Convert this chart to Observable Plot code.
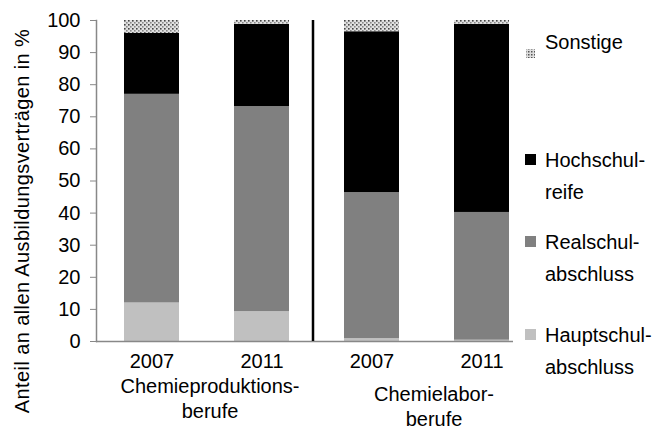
<!DOCTYPE html>
<html><head><meta charset="utf-8">
<script src="https://cdn.jsdelivr.net/npm/d3@7"></script>
<script src="https://cdn.jsdelivr.net/npm/@observablehq/plot@0.6"></script>
<style>
body{margin:0;background:#fff;font-family:"Liberation Sans",Arial,sans-serif;}
#wrap{position:relative;width:660px;height:439px;overflow:hidden;}
.lg{position:absolute;left:525px;font-size:20px;line-height:32px;color:#000;display:flex;align-items:flex-start;}
.lg .sw{width:11px;height:11px;margin-top:10px;margin-right:9px;flex:none;}
</style></head><body><div id="wrap"><div id="chart"></div></div>
<script>
const bars = ["Chemieproduktionsberufe 2007","Chemieproduktionsberufe 2011","Chemielaborberufe 2007","Chemielaborberufe 2011"];
const years = ["2007","2011","2007","2011"];
const groupLabels = ["Chemieproduktions-\nberufe","Chemielabor-\nberufe"];
const seriesNames = ["Hauptschul-\nabschluss","Realschul-\nabschluss","Hochschul-\nreife","Sonstige"];
const seriesColors = ["#c0c0c0","#808080","#000000","url(#dots)"];
const hauptschul = [12, 9.3, 0.9, 0.4];
const realschul = [65, 63.9, 45.5, 39.8];
const hochschul = [19, 25.6, 50.1, 58.6];
const sonstige = [4, 1.2, 3.5, 1.2];
const yTicks = [0,10,20,30,40,50,60,70,80,90,100];
const yTitle = "Anteil an allen Ausbildungsverträgen in %";

const seriesValues = [hauptschul, realschul, hochschul, sonstige];
const table = [];
seriesNames.forEach((s, si) => bars.forEach((b, bi) => table.push({bar: b, series: s, value: seriesValues[si][bi]})));

const svgns = "http://www.w3.org/2000/svg";
const patternDefs = () => {
  const g = document.createElementNS(svgns, "g");
  g.innerHTML = `<defs><pattern id="dots" patternUnits="userSpaceOnUse" width="4" height="4">
    <rect width="4" height="4" fill="#e0e0e0"/>
    <rect x="0" y="0" width="1.6" height="1.6" fill="#444"/>
    <rect x="2" y="2" width="1.6" height="1.6" fill="#888"/>
  </pattern></defs>`;
  return g;
};

const font = "Liberation Sans, Arial, sans-serif";
const chart = Plot.plot({
  width: 660, height: 439,
  marginLeft: 96, marginRight: 147, marginTop: 20, marginBottom: 98,
  style: {fontFamily: font, fontSize: "20px", background: "#fff", overflow: "visible"},
  x: {type: "band", domain: bars, range: [96, 536], paddingInner: 0.5, paddingOuter: 0.25},
  y: {domain: [0, 100]},
  color: {domain: seriesNames, range: seriesColors},
  marks: [
    patternDefs,
    Plot.barY(table, Plot.stackY({x: "bar", y: "value", fill: "series"})),
    Plot.frame({anchor: "left", stroke: "#888", strokeWidth: 1.5}),
    Plot.ruleY([0], {stroke: "#888", strokeWidth: 1.5}),
    Plot.ruleX([bars[1]], {dx: 51, stroke: "#000", strokeWidth: 2.5}),
    Plot.axisY({ticks: yTicks, tickSize: 6, tickPadding: 10, stroke: "#888", fontSize: 20, label: null}),
    Plot.axisX({tickFormat: d => years[bars.indexOf(d)], tickSize: 0, tickPadding: 12, fontSize: 20, label: null}),
    Plot.text([groupLabels[0]], {x: () => bars[0], text: d => d, frameAnchor: "bottom", lineAnchor: "top", dx: 58, dy: 34, fontSize: 20, lineHeight: 1.25}),
    Plot.text([groupLabels[1]], {x: () => bars[2], text: d => d, frameAnchor: "bottom", lineAnchor: "top", dx: 62, dy: 42, fontSize: 20, lineHeight: 1.25}),
    Plot.text([yTitle], {text: d => d, frameAnchor: "left", textAnchor: "middle", rotate: -90, dx: -74, dy: 40, fontSize: 20, style: "letter-spacing:0.4px"})
  ]
});
document.getElementById("chart").appendChild(chart);
chart.querySelectorAll("text").forEach(t => { if (t.textContent === yTitle) t.setAttribute("letter-spacing", "0.4"); });

// legend (top of first line, in px)
const legendTops = [26, 144, 226, 319];
const legendOrder = [3, 2, 1, 0];
const wrap = document.getElementById("wrap");
legendOrder.forEach((si, k) => {
  const d = document.createElement("div");
  d.className = "lg";
  d.style.top = legendTops[k] + "px";
  const sw = document.createElement("div");
  sw.className = "sw";
  if (si === 3) {
    sw.innerHTML = `<svg width="11" height="11"><defs><pattern id="dotsL" patternUnits="userSpaceOnUse" width="3" height="3"><rect width="3" height="3" fill="#ddd"/><rect width="1.5" height="1.5" fill="#555"/></pattern></defs><rect x="1" y="1" width="9" height="9" fill="url(#dotsL)"/></svg>`;
  } else {
    sw.style.background = seriesColors[si];
  }
  const t = document.createElement("div");
  t.innerHTML = seriesNames[si].replace("\n", "<br>");
  d.appendChild(sw); d.appendChild(t);
  wrap.appendChild(d);
});
</script></body></html>
